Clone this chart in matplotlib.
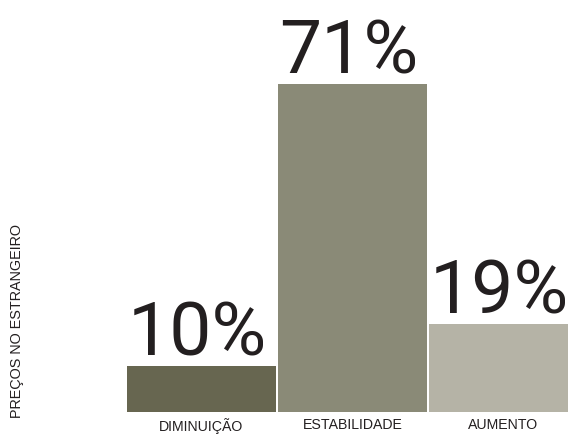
import matplotlib.pyplot as plt

categories = ["DIMINUIÇÃO", "ESTABILIDADE", "AUMENTO"]
values = [10, 71, 19]
labels = ["10%", "71%", "19%"]
colors = ["#676650", "#8a8a77", "#b5b3a6"]

fig = plt.figure(figsize=(5.68, 4.34), dpi=100)
# axes spans from the left edge of the first bar to the right edge of the image
ax = fig.add_axes([127 / 568, 1 - 412 / 434, 441 / 568, 412 / 434])

x = range(len(values))
ax.bar(x, values, width=149 / 151, color=colors, edgecolor="none")

ax.set_xlim(-74.5 / 151, (568 - 201.5) / 151)
ax.set_ylim(0, 412 / 4.62)

for i, (v, lab) in enumerate(zip(values, labels)):
    ax.annotate(lab, (i, v), xytext=(-3, 7.5), textcoords="offset points",
                ha="center", va="baseline", fontsize=54, color="#231f20",
                family="Roboto")

ax.set_xticks(list(x))
ax.set_xticklabels(categories, fontsize=10.2, color="#231f20",
                   family="Liberation Sans")
ax.tick_params(axis="x", length=0, pad=4)
ax.set_yticks([])
for s in ax.spines.values():
    s.set_visible(False)

fig.text(17.5 / 568, 1 - 321 / 434, "PREÇOS NO ESTRANGEIRO", rotation=90,
         ha="center", va="center", fontsize=10.4, color="#231f20",
         family="Liberation Sans")

fig.savefig("out.png", dpi=100)
